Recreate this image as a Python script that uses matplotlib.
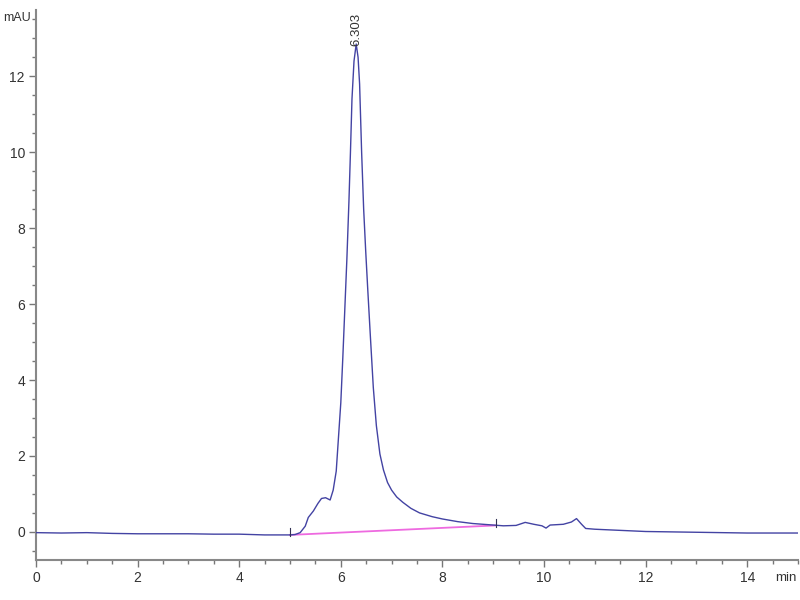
import matplotlib.pyplot as plt
from matplotlib.ticker import MultipleLocator

# chromatogram trace (min, mAU)
time_min = [0.0, 0.5, 1.0, 1.5, 2.0, 2.5, 3.0, 3.5, 4.0, 4.5, 5.0, 5.1, 5.2,
            5.3, 5.36, 5.46, 5.55, 5.62, 5.7, 5.79, 5.85, 5.91, 5.95, 6.0,
            6.04, 6.08, 6.12, 6.16, 6.19, 6.22, 6.26, 6.303, 6.34, 6.37, 6.41,
            6.45, 6.49, 6.53, 6.58, 6.64, 6.70, 6.77, 6.84, 6.92, 7.0, 7.1,
            7.22, 7.38, 7.55, 7.8, 8.0, 8.3, 8.6, 8.9, 9.2, 9.45, 9.63, 9.8,
            9.96, 10.04, 10.12, 10.38, 10.54, 10.64, 10.74, 10.82, 11.0, 11.5,
            12.0, 12.5, 13.0, 13.5, 14.0, 14.5, 15.0]
signal_mau = [-0.02, -0.03, -0.02, -0.04, -0.05, -0.05, -0.05, -0.06, -0.06,
              -0.08, -0.08, -0.07, -0.02, 0.15, 0.38, 0.55, 0.75, 0.88, 0.90,
              0.84, 1.1, 1.6, 2.4, 3.4, 4.6, 5.9, 7.2, 8.7, 10.0, 11.4, 12.4,
              12.85, 12.5, 11.8, 10.0, 8.5, 7.4, 6.4, 5.2, 3.8, 2.8, 2.05,
              1.63, 1.3, 1.1, 0.92, 0.78, 0.62, 0.5, 0.4, 0.34, 0.27, 0.22,
              0.19, 0.16, 0.17, 0.25, 0.2, 0.16, 0.10, 0.18, 0.2, 0.26, 0.35,
              0.2, 0.09, 0.07, 0.04, 0.01, 0.0, -0.01, -0.02, -0.03, -0.03,
              -0.03]

# integration baseline
base_t = [5.0, 9.05]
base_y = [-0.08, 0.17]

peak_rt = 6.303
peak_h = 12.85

plt.rcParams['font.family'] = ['Liberation Sans', 'DejaVu Sans']

fig = plt.figure(figsize=(8, 6), dpi=100)
ax = fig.add_axes([0.045, 0.0667, 0.9525, 0.9163])

ax.plot(time_min, signal_mau, color='#4343a3', lw=1.0, zorder=3)
ax.plot(base_t, base_y, color='#ee6ae0', lw=1.3, zorder=2)
for bt, by in zip(base_t, base_y):
    ax.plot([bt, bt], [by - 0.04, by + 0.18], color='#333355', lw=0.8, zorder=4)

ax.text(peak_rt, peak_h - 0.05, f'{peak_rt:.3f}', rotation=90, ha='center',
        va='bottom', fontsize=9.5, color='#333333')

ax.set_xlim(0, 15)
ax.set_ylim(-0.74, 13.74)

for side in ('top', 'right'):
    ax.spines[side].set_visible(False)
for side in ('left', 'bottom'):
    ax.spines[side].set_color('#888888')
    ax.spines[side].set_linewidth(1.5)

ax.xaxis.set_major_locator(MultipleLocator(2))
ax.xaxis.set_minor_locator(MultipleLocator(0.5))
ax.yaxis.set_major_locator(MultipleLocator(2))
ax.yaxis.set_minor_locator(MultipleLocator(0.5))
ax.tick_params(which='major', length=5, width=1, color='#777777',
               labelsize=10, labelcolor='#333333', pad=3)
ax.tick_params(which='minor', length=3, width=1, color='#777777')

fig.text(0.004, 0.97, 'mAU', ha='left', va='center', fontsize=9,
         color='#333333')
fig.text(0.996, 0.037, 'min', ha='right', va='center', fontsize=9.5,
         color='#333333')

fig.savefig('out.png', dpi=100)
